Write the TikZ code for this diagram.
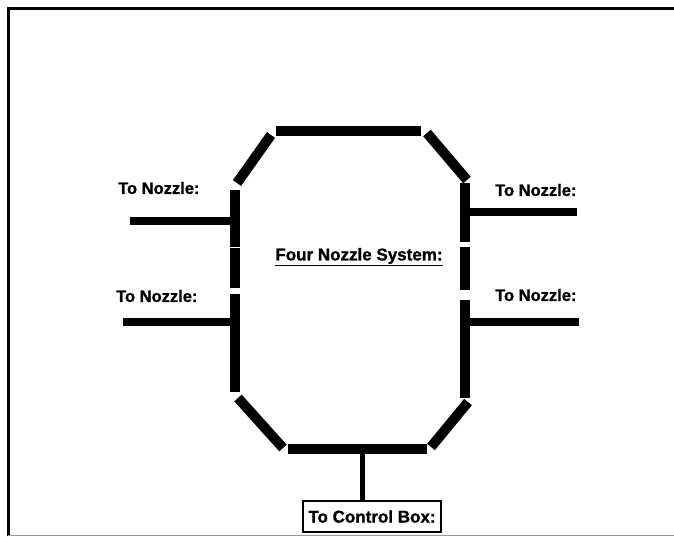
\documentclass[tikz,border=0pt]{standalone}
\usepackage{fontspec}
\setmainfont{Liberation Sans}
\newfontfamily\heavyfont{Liberation Sans Bold}[FakeBold=1.2]
\usetikzlibrary{positioning}

\begin{document}
\begin{tikzpicture}[x=1pt, y=-1pt,
    seg/.style={line width=10pt},
    pipe/.style={line width=8pt},
    tag/.style={font=\heavyfont\fontsize{16.5}{19}\selectfont, inner sep=0pt, anchor=west},
    ctrl/.style={draw, line width=2pt, font=\heavyfont\fontsize{17}{20}\selectfont, minimum width=138pt, minimum height=31pt, inner sep=0pt, anchor=north west}
]
\useasboundingbox (0,0) rectangle (674,536);
% outer frame
\draw[line width=3pt] (8,536) -- (8,8) -- (674,8);
\draw[line width=0.6pt, black!40] (8,535) -- (674,535);

% ring
\draw[seg] (276,131) -- (421,131);
\draw[seg] (237,183) -- (271,135);
\draw[seg] (427,133) -- (467,180);
\foreach \a/\b in {190/247, 247.6/288, 294/349.7, 350.3/392}
    \draw[seg] (235,\a) -- (235,\b);
\foreach \a/\b in {183/242, 247/290, 300/354.7, 355.3/398}
    \draw[seg] (465,\a) -- (465,\b);
\draw[seg] (238,398) -- (283,448);
\draw[seg] (288,449) -- (427,449);
\draw[seg] (431,447) -- (468,402);

% nozzles
\coordinate (nzlt) at (236,221);
\coordinate (nzlt end) at (130,221);
\coordinate (nzlb) at (236,322);
\coordinate (nzlb end) at (123,322);
\coordinate (nzrt) at (465,212);
\coordinate (nzrt end) at (577,212);
\coordinate (nzrb) at (465,322);
\coordinate (nzrb end) at (579,322);
\draw[pipe] (nzlt) -- (nzlt end);
\draw[pipe] (nzlb) -- (nzlb end);
\draw[pipe] (nzrt) -- (nzrt end);
\draw[pipe] (nzrb) -- (nzrb end);

\node[tag] (lbllt) at (118,188) {To Nozzle:};
\node[tag] (lbllb) at (116,296) {To Nozzle:};
\node[tag] (lblrt) at (495,190) {To Nozzle:};
\node[tag] (lblrb) at (495,295) {To Nozzle:};

\node[font=\heavyfont\fontsize{17}{20}\selectfont, inner sep=0pt] (title) at (359,257) {\underline{Four Nozzle System:}};

% control box
\coordinate (base) at (362,449);
\node[ctrl] (ctrl) at (302,500) {To Control Box:};
\draw[line width=5pt] (base) -- (base |- ctrl.north);
\end{tikzpicture}
\end{document}
